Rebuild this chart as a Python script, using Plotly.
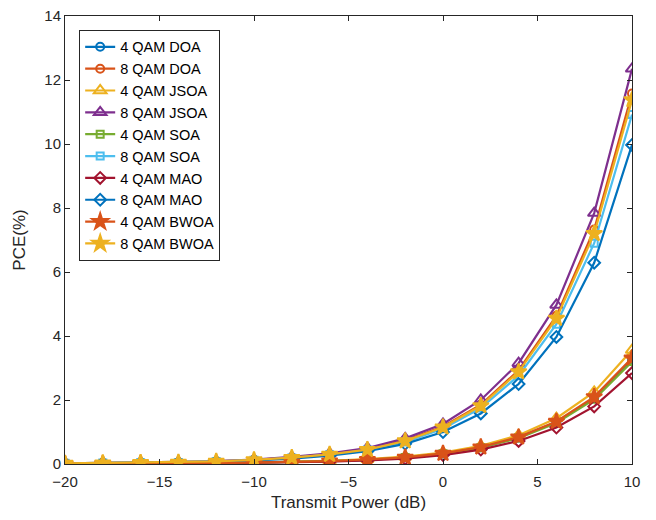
import plotly.graph_objects as go

x_db = [-20, -18, -16, -14, -12, -10, -8, -6, -4, -2, 0, 2, 4, 6, 8, 10]

doa4 = [0.01, 0.01, 0.02, 0.02, 0.03, 0.04, 0.06, 0.09, 0.13, 0.21, 0.33, 0.52, 0.83, 1.31, 2.06, 3.25]
doa8 = [0.02, 0.03, 0.04, 0.05, 0.08, 0.13, 0.20, 0.30, 0.46, 0.74, 1.17, 1.85, 2.93, 4.63, 7.33, 11.58]
jsoa4 = [0.01, 0.01, 0.02, 0.02, 0.03, 0.05, 0.07, 0.10, 0.15, 0.23, 0.36, 0.57, 0.90, 1.43, 2.25, 3.56]
jsoa8 = [0.02, 0.03, 0.04, 0.06, 0.09, 0.14, 0.22, 0.33, 0.50, 0.80, 1.25, 2.00, 3.15, 4.97, 7.84, 12.35]
soa4 = [0.01, 0.01, 0.02, 0.02, 0.03, 0.04, 0.06, 0.09, 0.13, 0.20, 0.32, 0.51, 0.81, 1.28, 2.02, 3.20]
soa8 = [0.02, 0.03, 0.04, 0.05, 0.08, 0.12, 0.19, 0.29, 0.44, 0.69, 1.10, 1.75, 2.76, 4.37, 6.90, 10.92]
mao4 = [0.01, 0.01, 0.01, 0.02, 0.03, 0.04, 0.05, 0.07, 0.11, 0.17, 0.28, 0.45, 0.72, 1.14, 1.80, 2.84]
mao8 = [0.01, 0.02, 0.03, 0.04, 0.07, 0.11, 0.17, 0.26, 0.40, 0.63, 1.00, 1.58, 2.50, 3.97, 6.29, 9.97]
bwoa4 = [0.01, 0.01, 0.02, 0.02, 0.03, 0.04, 0.06, 0.09, 0.14, 0.21, 0.33, 0.53, 0.84, 1.33, 2.10, 3.31]
bwoa8 = [0.02, 0.03, 0.04, 0.05, 0.08, 0.13, 0.20, 0.30, 0.45, 0.72, 1.15, 1.82, 2.88, 4.55, 7.20, 11.38]

series = [
    ("4 QAM DOA", doa4, "#0072BD", "circle-open", 8),
    ("8 QAM DOA", doa8, "#D95319", "circle-open", 8),
    ("4 QAM JSOA", jsoa4, "#EDB120", "triangle-up-open", 11),
    ("8 QAM JSOA", jsoa8, "#7E2F8E", "triangle-up-open", 11),
    ("4 QAM SOA", soa4, "#77AC30", "square-open", 7),
    ("8 QAM SOA", soa8, "#4DBEEE", "square-open", 7),
    ("4 QAM MAO", mao4, "#A2142F", "diamond-open", 9),
    ("8 QAM MAO", mao8, "#0072BD", "diamond-open", 9),
    ("4 QAM BWOA", bwoa4, "#D95319", "star", 12),
    ("8 QAM BWOA", bwoa8, "#EDB120", "star", 12),
]

fig = go.Figure()
for name, ys, col, sym, sz in series:
    fig.add_trace(go.Scatter(
        x=x_db, y=ys, name=name, mode="lines+markers",
        line=dict(color=col, width=2.2),
        marker=dict(symbol=sym, size=sz, color=col, line=dict(color=col, width=2)),
    ))

axis_common = dict(
    showgrid=False, zeroline=False, showline=True, linecolor="#262626", linewidth=1,
    mirror="allticks", ticks="inside", ticklen=5, tickcolor="#262626", automargin=False,
    ticklabeloverflow="allow",
    tickfont=dict(family="Liberation Sans, Arial", size=15, color="#262626"),
)

# page body has an 8px default margin; the figure is sized to fit inside the window
fig.update_layout(
    width=640, height=504,
    margin=dict(l=57, r=16, t=8, b=48),
    paper_bgcolor="white", plot_bgcolor="white",
    font=dict(family="Liberation Sans, Arial", size=15, color="#262626"),
    xaxis=dict(range=[-20, 10], tickvals=[-20, -15, -10, -5, 0, 5, 10], ticklabelstandoff=4,
               title=dict(text="Transmit Power (dB)", font=dict(size=17), standoff=10), **axis_common),
    yaxis=dict(range=[0, 14], tickvals=list(range(0, 15, 2)),
               title=dict(text="PCE(%)", font=dict(size=17), standoff=14), **axis_common),
    legend=dict(x=0.025, y=0.969, xanchor="left", yanchor="top",
                bgcolor="white", bordercolor="#262626", borderwidth=1,
                font=dict(size=14.5, color="#000000"), tracegroupgap=0, itemsizing="trace",
                entrywidth=115, entrywidthmode="pixels"),
    showlegend=True,
)

fig.write_html("out.html")
